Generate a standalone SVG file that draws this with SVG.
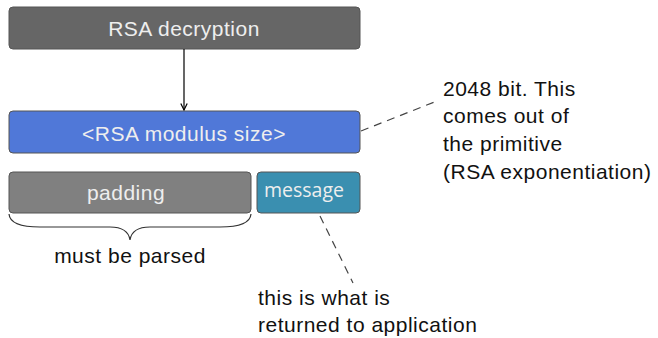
<svg xmlns="http://www.w3.org/2000/svg" width="658" height="338" viewBox="0 0 658 338">
<defs>
<style>
.box{stroke:#555;stroke-width:1}
.lbl{font-family:"Liberation Sans","DejaVu Sans",sans-serif;font-size:21px;letter-spacing:0.5px;fill:#eeeeee;text-anchor:middle;dominant-baseline:central}
.txt{font-family:"Liberation Sans","DejaVu Sans",sans-serif;font-size:21px;letter-spacing:0.5px;fill:#111}
.dash{stroke:#444;stroke-width:1.2;stroke-dasharray:8,6;fill:none}
</style>
<marker id="arr" viewBox="0 0 10 10" refX="9" refY="5" markerWidth="8" markerHeight="8" orient="auto" markerUnits="userSpaceOnUse">
<path d="M1,1 L9,5 L1,9" fill="none" stroke="#000" stroke-width="1.5"/>
</marker>
</defs>
<rect width="658" height="338" fill="#fff"/>
<g id="rsa-decryption">
<rect class="box" x="9" y="7" width="351" height="42" rx="4" fill="#666666"/>
<text class="lbl" x="184" y="28">RSA decryption</text>
</g>
<g id="modulus">
<rect class="box" x="9" y="111" width="351" height="42" rx="4" fill="#5078d8"/>
<text class="lbl" x="184" y="133">&lt;RSA modulus size&gt;</text>
</g>
<g id="padding">
<rect class="box" x="9" y="172" width="242" height="41" rx="4" fill="#808080"/>
<text class="lbl" x="126" y="192">padding</text>
</g>
<g id="message">
<rect class="box" x="257" y="172" width="103" height="41" rx="4" fill="#3a8fb0"/>
<text class="lbl" x="304" y="189" style="font-family:'Open Sans','DejaVu Sans',sans-serif;font-size:19.5px;letter-spacing:0">message</text>
</g>
<g id="connectors">
<line x1="184" y1="49" x2="184" y2="110" stroke="#000" stroke-width="1.2" marker-end="url(#arr)"/>
<line class="dash" x1="361" y1="131" x2="437" y2="101"/>
<line class="dash" x1="320" y1="216" x2="353" y2="283"/>
<path d="M9,214 Q10,227 40,227 L110,227 Q128,227 130,240 Q132,227 150,227 L220,227 Q250,227 251,214" fill="none" stroke="#333" stroke-width="1.2"/>
</g>
<g id="brace-label">
<text class="txt" x="130" y="263" text-anchor="middle">must be parsed</text>
</g>
<g id="note-modulus">
<text class="txt" x="443" y="96">2048 bit. This</text>
<text class="txt" x="443" y="123">comes out of</text>
<text class="txt" x="443" y="151">the primitive</text>
<text class="txt" x="443" y="179">(RSA exponentiation)</text>
</g>
<g id="note-message">
<text class="txt" x="258" y="305">this is what is</text>
<text class="txt" x="258" y="332">returned to application</text>
</g>
</svg>
